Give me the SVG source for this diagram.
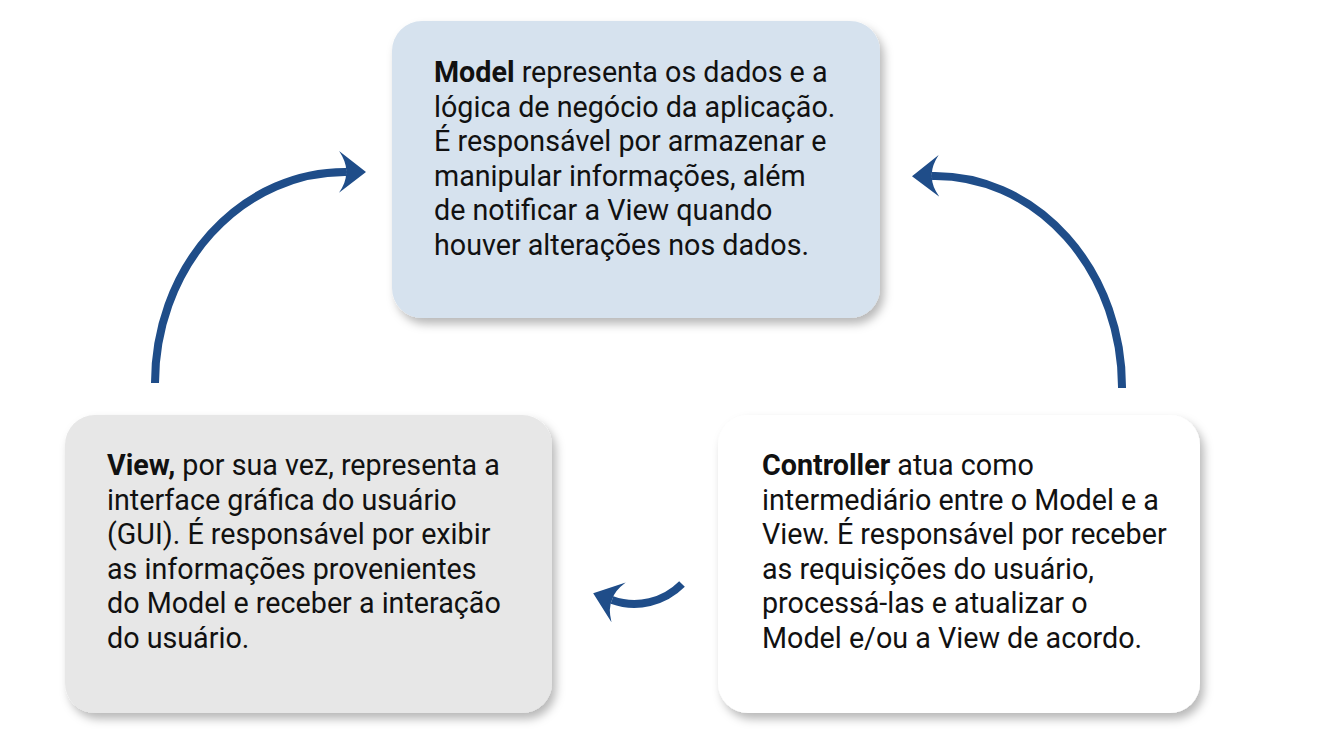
<svg xmlns="http://www.w3.org/2000/svg" width="1330" height="736" viewBox="0 0 1330 736">
<defs>
<style>
.t{font-family:Roboto,"Liberation Sans",sans-serif;font-size:28.7px;fill:#111}
.b{font-weight:bold}
.c{fill:none;stroke:#1f4d89;stroke-width:8}
</style>
<filter id="sh" x="-10%" y="-10%" width="125%" height="130%">
<feDropShadow dx="4" dy="6" stdDeviation="5" flood-color="#000" flood-opacity="0.28"/>
</filter>
<marker id="ah" markerUnits="userSpaceOnUse" viewBox="0 -22 28 44" markerWidth="28" markerHeight="44" refX="7" refY="0" orient="auto">
<path d="M27,0 L0,-21 Q8,-9 7,0 Q8,9 0,21 Z" fill="#1f4d89"/>
</marker>
</defs>
<g id="model">
<rect x="392" y="21" width="488" height="297" rx="30" fill="#d6e2ee" filter="url(#sh)"/>
<text class="t" x="434" y="82"><tspan class="b">Model</tspan> representa os dados e a</text>
<text class="t" x="434" y="116.5">lógica de negócio da aplicação.</text>
<text class="t" x="434" y="151">É responsável por armazenar e</text>
<text class="t" x="434" y="185.5">manipular informações, além</text>
<text class="t" x="434" y="220">de notificar a View quando</text>
<text class="t" x="434" y="254.5">houver alterações nos dados.</text>
</g>
<g id="view">
<rect x="65" y="415" width="487" height="298" rx="30" fill="#e7e7e7" filter="url(#sh)"/>
<text class="t" x="107" y="475"><tspan class="b">View,</tspan> por sua vez, representa a</text>
<text class="t" x="107" y="509.5">interface gráfica do usuário</text>
<text class="t" x="107" y="544">(GUI). É responsável por exibir</text>
<text class="t" x="107" y="578.5">as informações provenientes</text>
<text class="t" x="107" y="613">do Model e receber a interação</text>
<text class="t" x="107" y="647.5">do usuário.</text>
</g>
<g id="controller">
<rect x="718" y="415" width="482" height="298" rx="30" fill="#ffffff" filter="url(#sh)"/>
<text class="t" x="762" y="475"><tspan class="b">Controller</tspan> atua como</text>
<text class="t" x="762" y="509.5">intermediário entre o Model e a</text>
<text class="t" x="762" y="544">View. É responsável por receber</text>
<text class="t" x="762" y="578.5">as requisições do usuário,</text>
<text class="t" x="762" y="613">processá-las e atualizar o</text>
<text class="t" x="762" y="647.5">Model e/ou a View de acordo.</text>
</g>
<g id="connectors">
<path class="c" d="M155,383 A190,211 0 0 1 346,172" marker-end="url(#ah)"/>
<path class="c" d="M1122,388 A187,211 0 0 0 932,176" marker-end="url(#ah)"/>
<path class="c" d="M682,584 C664,602 637,609 612,600" marker-end="url(#ah)"/>
</g>
</svg>
